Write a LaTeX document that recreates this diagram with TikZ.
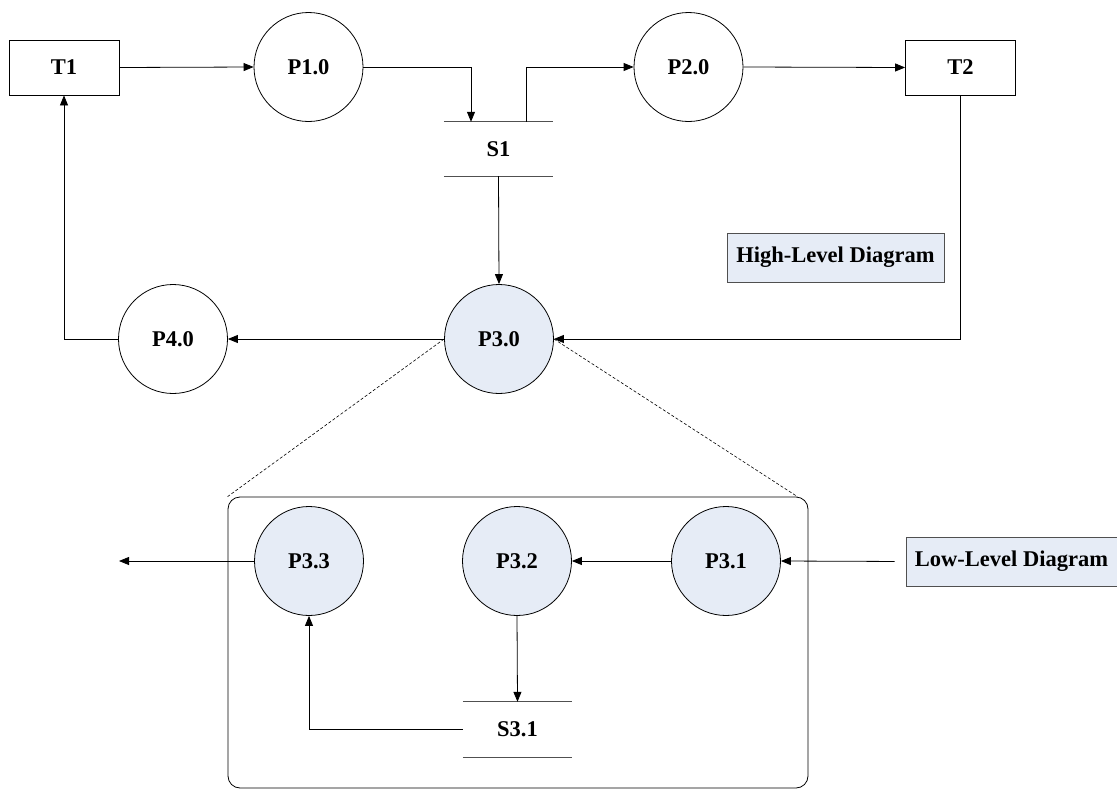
\documentclass[tikz,border=0pt]{standalone}
\usepackage{fontspec}
\setmainfont{Liberation Serif}
\usetikzlibrary{arrows.meta}
\definecolor{procfill}{HTML}{E6ECF6}
\definecolor{linegray}{HTML}{505050}
\begin{document}
\begin{tikzpicture}[x=1pt,y=-1pt,
  every node/.style={font=\fontsize{22.5}{26}\selectfont\bfseries, inner sep=0pt},
  ext/.style={draw, rectangle, minimum width=110pt, minimum height=55pt, line width=0.8pt},
  proc/.style={draw, circle, minimum size=109pt, line width=0.8pt},
  subproc/.style={proc, fill=procfill},
  store/.style={minimum width=109pt, minimum height=54pt},
  storeline/.style={draw=linegray, line width=0.8pt},
  tag/.style={draw=linegray, fill=procfill, rectangle, minimum height=49pt, line width=0.8pt},
  flow/.style={draw, line width=0.8pt, -{Triangle[length=10pt,width=8pt]}},
  zoomline/.style={draw, line width=0.6pt, dash pattern=on 3pt off 2pt},
]
\useasboundingbox (0,0) rectangle (1117,790);

% high-level level
\node[ext] (T1) at (64,67.5) {T1};
\node[ext] (T2) at (960.5,67.5) {T2};
\node[proc] (P1) at (308.5,67) {P1.0};
\node[proc] (P2) at (688.5,67) {P2.0};
\node[store] (S1) at (498.5,149) {S1};
\draw[storeline] (S1.north west) -- (S1.north east) (S1.south west) -- (S1.south east);
\node[subproc] (P3) at (499,339) {P3.0};
\node[proc] (P4) at (173,339) {P4.0};
\node[tag, minimum width=217pt] (high) at (835.5,257.5) {High-Level Diagram};

\draw[flow] (T1.east) -- (P1.west);
\draw[flow] (P1.east) -| ([xshift=-27.5pt]S1.north);
\draw[flow] ([xshift=27.5pt]S1.north) |- (P2.west);
\draw[flow] (P2.east) -- (T2.west);
\draw[flow] (S1.south) -- (P3.north);
\draw[flow] (T2.south) |- (P3.east);
\draw[flow] (P3.west) -- (P4.east);
\draw[flow] (P4.west) -| (T1.south);

% low-level expansion of P3.0
\node[draw, rectangle, rounded corners=12pt, line width=0.8pt,
      minimum width=580pt, minimum height=291pt] (detail) at (518,642.5) {};
\draw[zoomline] (P3.west) -- (detail.north west);
\draw[zoomline] (P3.east) -- ([xshift=-11pt]detail.north east);

\node[subproc] (P33) at (309,561) {P3.3};
\node[subproc] (P32) at (517,561) {P3.2};
\node[subproc] (P31) at (726,561) {P3.1};
\node[store, minimum height=55pt] (S31) at (517.5,729.5) {S3.1};
\draw[storeline] (S31.north west) -- (S31.north east) (S31.south west) -- (S31.south east);
\node[tag, minimum width=211pt] (low) at (1011.5,561.5) {Low-Level Diagram};
\coordinate (outflow) at (119,561);

\draw[flow, shorten <=11pt] (low.west) -- (P31.east);
\draw[flow] (P31.west) -- (P32.east);
\draw[flow] (P32.south) -- (S31.north);
\draw[flow] (S31.west) -| (P33.south);
\draw[flow] (P33.west) -- (outflow);
\end{tikzpicture}
\end{document}
